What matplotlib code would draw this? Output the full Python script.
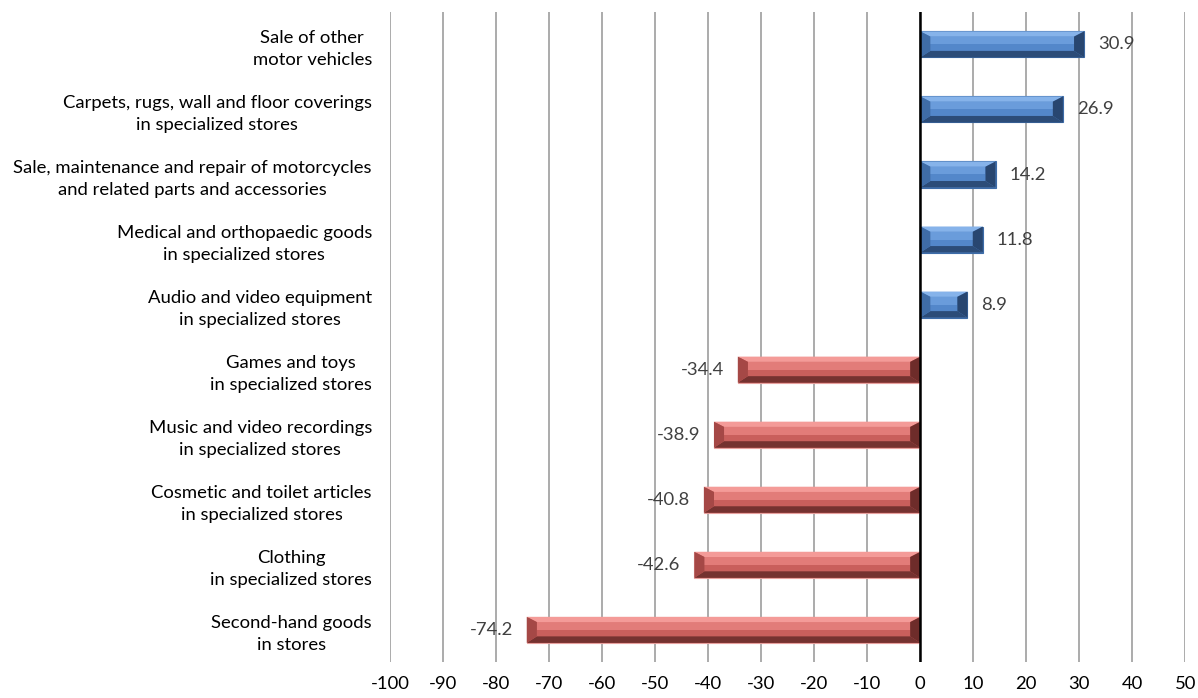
import matplotlib.pyplot as plt
from matplotlib.patches import Polygon
import numpy as np

plt.rcParams['font.family'] = ['Lato', 'DejaVu Sans']

categories = [
    "Sale of other\nmotor vehicles",
    "Carpets, rugs, wall and floor coverings\nin specialized stores",
    "Sale, maintenance and repair of motorcycles\nand related parts and accessories",
    "Medical and orthopaedic goods\nin specialized stores",
    "Audio and video equipment\nin specialized stores",
    "Games and toys\nin specialized stores",
    "Music and video recordings\nin specialized stores",
    "Cosmetic and toilet articles\nin specialized stores",
    "Clothing\nin specialized stores",
    "Second-hand goods\nin stores",
]
values = [30.9, 26.9, 14.2, 11.8, 8.9, -34.4, -38.9, -40.8, -42.6, -74.2]
xticks = list(range(-100, 51, 10))

blue = {"face": "#5387CA", "top": "#86B3EA", "bot": "#2C4C78", "left": "#3F6CA6", "right": "#284670", "upper": "#6A9CDB", "edge": "#3D6CA8"}
red = {"face": "#C95F5C", "top": "#F49B98", "bot": "#753230", "left": "#A54846", "right": "#6E2C2A", "upper": "#E27C79", "edge": "#E8A09E"}

fig = plt.figure(figsize=(11.98, 6.98), dpi=100)
ax = fig.add_axes([0.3255, 0.051, 0.664, 0.932])

n = len(categories)
ypos = np.arange(n)
h = 0.4
dx = 1.9
dyt = 0.08
dyb = 0.1

for y, v in zip(ypos, values):
    c = blue if v > 0 else red
    l, r = min(0, v), max(0, v)
    # y axis is inverted: visual top is y - h/2
    t, b = y - h / 2, y + h / 2
    ax.barh(y, v, height=h, color=c["face"], edgecolor=c["edge"], linewidth=0.8, zorder=3)
    ax.add_patch(Polygon([(l + dx, y), (r - dx, y), (r - dx, t + dyt), (l + dx, t + dyt)],
                         closed=True, color=c["upper"], lw=0, zorder=4))
    ax.add_patch(Polygon([(l, t), (r, t), (r - dx, t + dyt), (l + dx, t + dyt)], closed=True, color=c["top"], lw=0, zorder=4))
    ax.add_patch(Polygon([(l, b), (r, b), (r - dx, b - dyb), (l + dx, b - dyb)], closed=True, color=c["bot"], lw=0, zorder=4))
    ax.add_patch(Polygon([(l, b), (l, t), (l + dx, t + dyt), (l + dx, b - dyb)], closed=True, color=c["left"], lw=0, zorder=4))
    ax.add_patch(Polygon([(r, b), (r, t), (r - dx, t + dyt), (r - dx, b - dyb)], closed=True, color=c["right"], lw=0, zorder=4))
    off = 10 if v > 0 else -10
    ax.annotate(f"{v:.1f}", (v, y), xytext=(off, 0), textcoords="offset points",
                ha="left" if v > 0 else "right", va="center", fontsize=13.3, color="#404040", zorder=6)

ax.set_xlim(-100, 50)
ax.set_ylim(n - 0.5, -0.5)
ax.set_xticks(xticks)
ax.set_xticklabels([str(x) for x in xticks], fontsize=13.3, color="#000000")
ax.set_yticks(ypos)
ax.set_yticklabels(categories, fontsize=13.3, multialignment="center", linespacing=1.45)
ax.tick_params(axis="both", length=0)
ax.tick_params(axis="y", pad=13)
ax.tick_params(axis="x", pad=10)
ax.grid(axis="x", color="#ABABAB", linewidth=1.4, zorder=0)
ax.set_axisbelow(True)
for s in ax.spines.values():
    s.set_visible(False)
ax.axvline(0, color="black", linewidth=1.8, zorder=5)

fig.savefig("out.png", dpi=100)
